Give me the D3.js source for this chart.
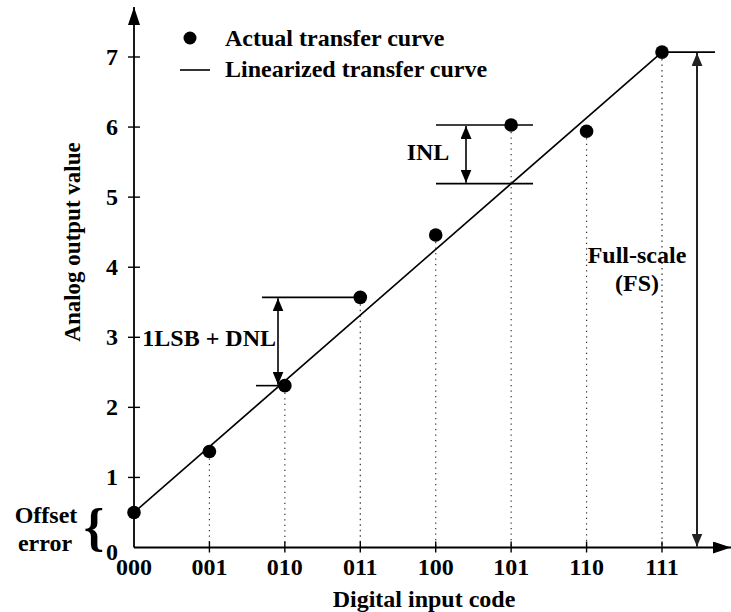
<!DOCTYPE html>
<html><head><meta charset="utf-8">
<script src="https://cdn.jsdelivr.net/npm/d3@7"></script>
<style>
html,body{margin:0;padding:0;background:#fff;}
svg{display:block;}
text{font-family:"Liberation Serif","Times New Roman",serif;font-weight:bold;fill:#000;}
</style></head>
<body>
<script>
// ---- data ----
const codes = ["000","001","010","011","100","101","110","111"];
const actualValues = [0.5, 1.37, 2.31, 3.57, 4.46, 6.03, 5.94, 7.07];
const linearEnds = [{i:0, v:0.5}, {i:7, v:7.07}];
const yTicks = [0,1,2,3,4,5,6,7];
const legendLabels = ["Actual transfer curve", "Linearized transfer curve"];

const W = 731, H = 612;
const FS = 24;
const svg = d3.select("body").append("svg").attr("width", W).attr("height", H);

const x = d3.scaleLinear().domain([0, 7]).range([134, 662]);
const y = d3.scaleLinear().domain([0, 7]).range([547.5, 57]);

const defs = svg.append("defs");
function marker(id, w, h, color){
  defs.append("marker").attr("id", id).attr("viewBox", `0 0 ${w} ${h}`)
    .attr("refX", w).attr("refY", h/2).attr("markerWidth", w).attr("markerHeight", h)
    .attr("markerUnits", "userSpaceOnUse").attr("orient", "auto-start-reverse")
    .append("path").attr("d", `M0,0L${w},${h/2}L0,${h}Z`).attr("fill", color);
}
marker("axisArrow", 18, 12, "#000");
marker("smallArrow", 13, 11, "#000");
marker("fsArrow", 13, 11, "#222");

const g = svg.append("g");

// dotted verticals
g.selectAll("line.drop").data(codes.slice(1)).join("line")
  .attr("class", "drop")
  .attr("x1", (d, i) => x(i + 1)).attr("x2", (d, i) => x(i + 1))
  .attr("y1", (d, i) => y(actualValues[i + 1]) + 7).attr("y2", y(0))
  .attr("stroke", "#333").attr("stroke-width", 1.2).attr("stroke-dasharray", "1.3,4.2");

// axes
g.append("line").attr("x1", x(0)).attr("x2", 731).attr("y1", y(0)).attr("y2", y(0))
  .attr("stroke", "#000").attr("stroke-width", 1.8).attr("marker-end", "url(#axisArrow)");
g.append("line").attr("x1", x(0)).attr("x2", x(0)).attr("y1", y(0)).attr("y2", 7)
  .attr("stroke", "#000").attr("stroke-width", 1.8).attr("marker-end", "url(#axisArrow)");

// y ticks
g.selectAll("line.yt").data(yTicks.slice(1)).join("line").attr("class", "yt")
  .attr("x1", x(0) - 6).attr("x2", x(0) + 6).attr("y1", d => y(d)).attr("y2", d => y(d))
  .attr("stroke", "#000").attr("stroke-width", 1.4);
g.selectAll("text.yl").data(yTicks).join("text").attr("class", "yl")
  .attr("x", 118).attr("y", d => y(d) + 8 + (d === 0 ? 4 : 0)).attr("text-anchor", "end")
  .attr("font-size", FS).text(d => d);

// x ticks
g.selectAll("line.xt").data(codes.slice(1)).join("line").attr("class", "xt")
  .attr("x1", (d, i) => x(i + 1)).attr("x2", (d, i) => x(i + 1))
  .attr("y1", y(0) - 6).attr("y2", y(0) + 5)
  .attr("stroke", "#000").attr("stroke-width", 1.4);
g.selectAll("text.xl").data(codes).join("text").attr("class", "xl")
  .attr("x", (d, i) => x(i)).attr("y", 575).attr("text-anchor", "middle")
  .attr("font-size", FS).text(d => d);

// axis titles
g.append("text").attr("x", 424).attr("y", 607).attr("text-anchor", "middle")
  .attr("font-size", FS).text("Digital input code");
g.append("text").attr("transform", "translate(80,242) rotate(-90)").attr("text-anchor", "middle")
  .attr("font-size", 23).text("Analog output value");

// linearized line
g.append("line")
  .attr("x1", x(linearEnds[0].i)).attr("y1", y(linearEnds[0].v))
  .attr("x2", x(linearEnds[1].i)).attr("y2", y(linearEnds[1].v))
  .attr("stroke", "#000").attr("stroke-width", 1.6);

// INL annotation
const inlTop = actualValues[5];
const inlBot = linearEnds[0].v + (linearEnds[1].v - linearEnds[0].v) * 5 / 7;
[inlTop, inlBot].forEach(v => {
  g.append("line").attr("x1", 436).attr("x2", 533).attr("y1", y(v)).attr("y2", y(v))
    .attr("stroke", "#000").attr("stroke-width", 1.6);
});
g.append("line").attr("x1", 466).attr("x2", 466).attr("y1", y(inlTop) + 1).attr("y2", y(inlBot) - 1)
  .attr("stroke", "#000").attr("stroke-width", 1.6)
  .attr("marker-start", "url(#smallArrow)").attr("marker-end", "url(#smallArrow)");
g.append("text").attr("x", 428).attr("y", 160).attr("text-anchor", "middle").attr("font-size", FS).text("INL");

// 1LSB + DNL annotation
g.append("line").attr("x1", 262).attr("x2", x(3)).attr("y1", y(actualValues[3])).attr("y2", y(actualValues[3]))
  .attr("stroke", "#000").attr("stroke-width", 1.6);
g.append("line").attr("x1", 256).attr("x2", x(2)).attr("y1", y(actualValues[2])).attr("y2", y(actualValues[2]))
  .attr("stroke", "#000").attr("stroke-width", 1.6);
g.append("line").attr("x1", 278).attr("x2", 278).attr("y1", y(actualValues[3]) + 1).attr("y2", y(actualValues[2]) - 1)
  .attr("stroke", "#000").attr("stroke-width", 1.6)
  .attr("marker-start", "url(#smallArrow)").attr("marker-end", "url(#smallArrow)");
g.append("text").attr("x", 276).attr("y", 346).attr("text-anchor", "end").attr("font-size", FS).text("1LSB + DNL");

// Full-scale annotation
g.append("line").attr("x1", x(7)).attr("x2", 715).attr("y1", y(actualValues[7])).attr("y2", y(actualValues[7]))
  .attr("stroke", "#000").attr("stroke-width", 1.6);
g.append("line").attr("x1", 697).attr("x2", 697).attr("y1", y(actualValues[7]) + 1).attr("y2", y(0) - 1)
  .attr("stroke", "#222").attr("stroke-width", 2)
  .attr("marker-start", "url(#fsArrow)").attr("marker-end", "url(#fsArrow)");
g.append("text").attr("x", 637).attr("y", 263).attr("text-anchor", "middle").attr("font-size", FS).text("Full-scale");
g.append("text").attr("x", 637).attr("y", 291).attr("text-anchor", "middle").attr("font-size", FS).text("(FS)");

// Offset error
g.append("text").attr("x", 46).attr("y", 523).attr("text-anchor", "middle").attr("font-size", FS).text("Offset");
g.append("text").attr("x", 45).attr("y", 551).attr("text-anchor", "middle").attr("font-size", FS).text("error");
g.append("text").attr("x", 94).attr("y", 545).attr("text-anchor", "middle")
  .attr("font-size", 52).text("{");

// actual points
g.selectAll("circle.pt").data(actualValues).join("circle").attr("class", "pt")
  .attr("cx", (d, i) => x(i)).attr("cy", d => y(d)).attr("r", 6.8).attr("fill", "#000");

// legend
const lg = svg.append("g");
lg.append("circle").attr("cx", 190).attr("cy", 38).attr("r", 6.5).attr("fill", "#000");
lg.append("line").attr("x1", 180).attr("x2", 210).attr("y1", 70).attr("y2", 70).attr("stroke", "#000").attr("stroke-width", 1.6);
lg.selectAll("text").data(legendLabels).join("text")
  .attr("x", 225).attr("y", (d, i) => 46 + i * 31).attr("font-size", FS).text(d => d);
</script>
</body></html>
